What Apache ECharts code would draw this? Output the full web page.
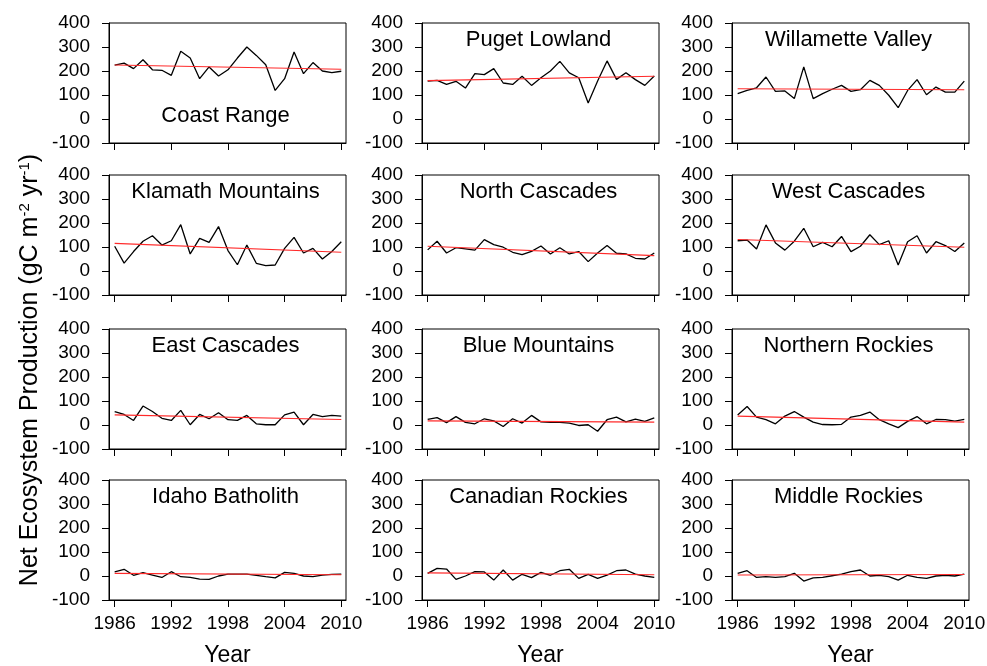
<!DOCTYPE html>
<html>
<head>
<meta charset="utf-8">
<script src="https://cdn.jsdelivr.net/npm/echarts@6/dist/echarts.min.js"></script>
<style>
html,body{margin:0;padding:0;background:#fff}
#chart{width:987px;height:666px}
</style>
</head>
<body>
<div id="chart"></div>
<script>
var years = [1986,1987,1988,1989,1990,1991,1992,1993,1994,1995,1996,1997,1998,
             1999,2000,2001,2002,2003,2004,2005,2006,2007,2008,2009,2010];
var yearTicks = [1986,1992,1998,2004,2010];
var valueTicks = [-100,0,100,200,300,400];

var regions = ['Coast Range','Puget Lowland','Willamette Valley',
               'Klamath Mountains','North Cascades','West Cascades',
               'East Cascades','Blue Mountains','Northern Rockies',
               'Idaho Batholith','Canadian Rockies','Middle Rockies'];

// NEP per year
var coastRange      = [224,233,210,247,205,203,182,282,254,168,217,179,205,254,300,265,226,119,168,279,189,235,200,193,199];
var pugetLowland    = [158,161,144,157,129,189,185,210,150,144,178,140,172,200,240,192,172,67,158,242,165,193,164,140,179];
var willamette      = [106,119,130,175,115,117,85,217,85,106,124,140,115,122,161,140,99,47,119,164,101,133,112,112,158];
var klamath         = [103,33,81,124,147,108,126,193,71,136,119,185,85,26,108,32,22,25,94,140,75,94,50,81,122];
var northCascades   = [88,124,75,97,92,87,131,110,99,78,68,82,104,71,97,71,81,39,75,106,74,71,53,50,75];
var westCascades    = [126,129,92,192,117,87,124,178,101,119,101,144,81,103,151,110,126,25,122,147,75,122,106,81,117];
var eastCascades    = [56,44,19,79,56,28,19,61,1,44,26,51,22,19,40,5,1,1,42,54,1,44,35,40,37];
var blueMountains   = [23,31,10,35,11,5,26,17,-6,26,8,40,13,11,11,8,-2,1,-26,22,33,13,24,15,30];
var northernRockies = [42,77,33,22,5,37,56,33,12,2,1,3,33,40,54,22,5,-11,15,35,5,23,22,16,23];
var idahoBatholith  = [17,28,3,14,4,-6,18,-3,-6,-13,-14,0,8,8,8,3,-3,-8,15,11,0,-3,4,7,8];
var canadianRockies = [11,32,29,-14,0,18,17,-17,25,-17,7,-7,15,3,22,28,-10,7,-10,4,22,25,8,0,-6];
var middleRockies   = [11,22,-6,-3,-6,-3,11,-21,-8,-6,1,8,18,25,0,3,-3,-17,3,-6,-10,0,3,0,8];

// red trend line, value at 1986 and at 2010
var trendStart = [225,160,126,115,103,131,42,17,37,11,13,4];
var trendEnd   = [207,178,122,78,64,99,23,12,12,5,5,6];

var panels = [coastRange,pugetLowland,willamette,klamath,northCascades,westCascades,
              eastCascades,blueMountains,northernRockies,idahoBatholith,canadianRockies,middleRockies];

var font = 'Liberation Sans, Arial, sans-serif';
var colLeft = [109, 422, 732];
var rowTop = [23, 175, 329, 480];
var boxW = 237, boxH = 120;
// where each panel name sits, offset from the box top
var nameOffset = [94,18,18, 18,18,18, 18,18,18, 18,18,18];

var myChart = echarts.init(document.getElementById('chart'));
var option = {
    animation: false,
    backgroundColor: '#fff',
    title: [],
    grid: [],
    xAxis: [],
    yAxis: [],
    series: [],
    graphic: [{
        type: 'text',
        x: 30,
        y: 370,
        rotation: Math.PI / 2,
        style: {
            text: '{n|Net Ecosystem Production (gC m}{s|-2}{n| yr}{s|-1}{n|)}',
            align: 'center',
            verticalAlign: 'middle',
            fill: '#000',
            rich: {
                n: {fontSize: 25, fontFamily: font, fill: '#000'},
                s: {fontSize: 15, fontFamily: font, fill: '#000', verticalAlign: 'top'}
            }
        }
    }]
};

for (var k = 0; k < 12; k++) {
    var r = Math.floor(k / 3), c = k % 3;
    var lastRow = r === 3;
    option.grid.push({
        left: colLeft[c], top: rowTop[r], width: boxW, height: boxH,
        outerBoundsMode: 'none',
        show: true, borderColor: '#000', borderWidth: 1
    });
    option.title.push({
        text: regions[k],
        left: colLeft[c] + boxW / 2 - 2,
        top: rowTop[r] + nameOffset[k] - 12,
        textAlign: 'center',
        padding: 0,
        textStyle: {fontSize: 22, fontWeight: 'normal', fontFamily: font, color: '#000'}
    });
    option.xAxis.push({
        type: 'value', gridIndex: k, min: 1985.4, max: 2010.5,
        axisLine: {show: true, onZero: false, lineStyle: {color: '#000'}},
        axisTick: {show: true, length: 7, customValues: yearTicks, lineStyle: {color: '#000'}},
        axisLabel: {
            show: lastRow, customValues: yearTicks, fontSize: 19, fontFamily: font,
            color: '#000', margin: 14,
            formatter: function (v) { return String(v); }
        },
        splitLine: {show: false},
        name: lastRow ? 'Year' : '',
        nameLocation: 'middle',
        nameGap: 44,
        nameTextStyle: {fontSize: 23, fontFamily: font, color: '#000'}
    });
    option.yAxis.push({
        type: 'value', gridIndex: k, min: -100, max: 400, interval: 100,
        axisLine: {show: true, lineStyle: {color: '#000'}},
        axisTick: {show: true, length: 7, lineStyle: {color: '#000'}},
        axisLabel: {fontSize: 19, fontFamily: font, color: '#000', margin: 19},
        splitLine: {show: false}
    });
    option.series.push({
        type: 'line', xAxisIndex: k, yAxisIndex: k,
        data: years.map(function (y, i) { return [y, panels[k][i]]; }),
        showSymbol: false, symbol: 'none',
        lineStyle: {color: '#000', width: 1.3}
    });
    option.series.push({
        type: 'line', xAxisIndex: k, yAxisIndex: k,
        data: [[years[0], trendStart[k]], [years[years.length - 1], trendEnd[k]]],
        showSymbol: false, symbol: 'none',
        lineStyle: {color: '#ff2a2a', width: 1.1}
    });
}
myChart.setOption(option);
</script>
</body>
</html>
